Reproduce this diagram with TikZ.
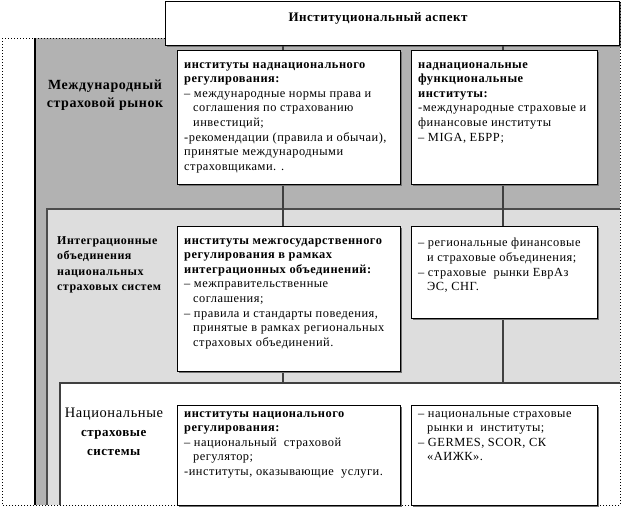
\documentclass[tikz,border=0pt]{standalone}
\usepackage{fontspec}
\setmainfont{Liberation Serif}[LetterSpace=4]
\usetikzlibrary{shadows}
\definecolor{dgray}{HTML}{B2B2B2}
\definecolor{lgray}{HTML}{DDDDDD}
\definecolor{lnc}{HTML}{404040}
\newcommand\bodyfont{\fontsize{12.4}{14.6}\selectfont}
\begin{document}
\begin{tikzpicture}[x=1pt,y=-1pt,
  box/.style={draw=black, fill=white, line width=0.8pt, anchor=north west, inner sep=0pt,
    drop shadow={shadow xshift=2pt, shadow yshift=-2pt, fill=black!55, opacity=1}},
  txt/.style={anchor=north west, inner sep=0pt, align=left, font=\bodyfont},
  conn/.style={draw=lnc, line width=1.4pt},
  region/.style={anchor=north west, inner sep=0pt}]
\useasboundingbox (0,0) rectangle (623,507);
% regions
\node[region, fill=dgray, minimum width=585, minimum height=467] (rg1) at (35,38) {};
\draw[black, line width=2pt] (rg1.north west) -- (rg1.south west);
\node[region, fill=lgray, minimum width=573, minimum height=296] (rg2) at (47,209) {};
\draw[black!70, line width=1.5pt] (rg2.south west) -- (rg2.north west) -- (rg2.north east);
\node[region, fill=white, minimum width=560, minimum height=122] (rg3) at (60,383) {};
\draw[black!75, line width=1.5pt] (rg3.south west) -- (rg3.north west) -- (rg3.north east);
% title
\node[box, drop shadow={opacity=0}, minimum width=454, minimum height=44] (title) at (165,1) {};
\node[font=\fontsize{13}{15}\selectfont\bfseries, inner sep=0pt] (tt) at (378,18) {Институциональный аспект};
% connectors
\coordinate (v1) at (283,383);
\coordinate (v2) at (503,383);
\draw[conn] (title.south -| v1) -- (v1);
\draw[conn] (title.south -| v2) -- (v2);
% outer dotted frame
\draw[dotted, line width=1pt] (2,38) -- (165,38);
\draw[dotted, line width=1pt] (165,1) -- (620,1) -- (620,505) -- (2,505) -- (2,38);
% boxes
\node[box, minimum width=223, minimum height=134] (b1) at (177,50) {};
\node[box, minimum width=186, minimum height=134] (b2) at (411,50) {};
\node[box, minimum width=223, minimum height=145] (b3) at (177,226) {};
\node[box, minimum width=186, minimum height=92] (b4) at (411,226) {};
\node[box, minimum width=223, minimum height=100] (b5) at (177,405) {};
\node[box, minimum width=186, minimum height=100] (b6) at (411,405) {};
% left labels
\node[align=center, font=\fontsize{14}{18}\selectfont\bfseries] (l1) at (105,95) {Международный\\страховой рынок};
\node[anchor=north west, inner sep=0pt, align=left, font=\fontsize{12}{15.5}\selectfont\bfseries] (l2) at (57,236) {Интеграционные\\объединения\\национальных\\страховых систем};
\node[anchor=north, inner sep=0pt, align=center, font=\fontsize{13}{19}\selectfont] (l3) at (114,408) {{\fontsize{14.5}{19}\selectfont Национальные}\\\textbf{страховые}\\\textbf{системы}};
% box texts
\node[txt] (t1) at (184,62) {\textbf{институты наднационального}\\\textbf{регулирования:}\\– международные нормы права и\\\hspace*{9pt}соглашения по страхованию\\\hspace*{9pt}инвестиций;\\-рекомендации (правила и обычаи),\\принятые международными\\страховщиками. .};
\node[txt] (t2) at (418,62) {\textbf{наднациональные}\\\textbf{функциональные}\\\textbf{институты:}\\-международные страховые и\\финансовые институты\\– MIGA, ЕБРР;};
\node[txt] (t3) at (184,238) {\textbf{институты межгосударственного}\\\textbf{регулирования в рамках}\\\textbf{интеграционных объединений:}\\– межправительственные\\\hspace*{9pt}соглашения;\\– правила и стандарты поведения,\\\hspace*{9pt}принятые в рамках региональных\\\hspace*{9pt}страховых объединений.};
\node[txt] (t4) at (418,238) {– региональные финансовые\\\hspace*{9pt}и страховые объединения;\\– страховые \ рынки ЕврАз\\\hspace*{9pt}ЭС, СНГ.};
\node[txt] (t5) at (184,411) {\textbf{институты национального}\\\textbf{регулирования:}\\– национальный \ страховой\\\hspace*{9pt}регулятор;\\-институты, оказывающие \ услуги.};
\node[txt] (t6) at (418,411) {– национальные страховые\\\hspace*{9pt}рынки и \ институты;\\– GERMES, SCOR, СК\\\hspace*{9pt}«АИЖК».};
\end{tikzpicture}
\end{document}
